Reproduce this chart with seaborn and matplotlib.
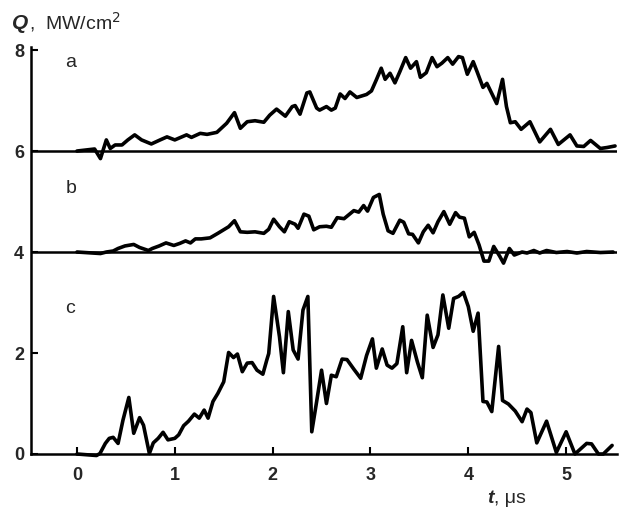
import matplotlib
matplotlib.use("Agg")
import matplotlib.pyplot as plt
import seaborn as sns
import pandas as pd

# time axis, microseconds, and heat flux traces, MW/cm^2
t_a = [0.00, 0.18, 0.24, 0.30, 0.34, 0.39, 0.46, 0.52, 0.59, 0.66, 0.76, 0.85, 0.92, 1.00, 1.12, 1.17,
       1.26, 1.33, 1.43, 1.53, 1.61, 1.67, 1.74, 1.82, 1.91, 1.97, 2.04, 2.13, 2.20, 2.23, 2.28, 2.35,
       2.38, 2.45, 2.48, 2.55, 2.60, 2.64, 2.69, 2.74, 2.79, 2.86, 2.96, 3.01, 3.06, 3.11, 3.15, 3.20,
       3.25, 3.30, 3.36, 3.41, 3.47, 3.51, 3.57, 3.63, 3.68, 3.73, 3.79, 3.84, 3.90, 3.94, 3.99, 4.05,
       4.09, 4.15, 4.19, 4.24, 4.29, 4.35, 4.39, 4.43, 4.48, 4.54, 4.63, 4.73, 4.84, 4.92, 5.04, 5.11,
       5.18, 5.25, 5.35, 5.42, 5.50]
q_a = [6.00, 6.04, 5.85, 6.22, 6.05, 6.12, 6.12, 6.22, 6.32, 6.22, 6.14, 6.22, 6.28, 6.22, 6.32, 6.27,
       6.35, 6.33, 6.37, 6.55, 6.76, 6.45, 6.58, 6.60, 6.57, 6.71, 6.83, 6.69, 6.88, 6.90, 6.73, 7.15,
       7.17, 6.85, 6.81, 6.88, 6.81, 6.85, 7.13, 7.04, 7.17, 7.06, 7.12, 7.19, 7.41, 7.64, 7.42, 7.54,
       7.35, 7.57, 7.85, 7.64, 7.77, 7.46, 7.55, 7.85, 7.67, 7.74, 7.85, 7.72, 7.87, 7.85, 7.52, 7.77,
       7.57, 7.26, 7.34, 7.14, 6.94, 7.42, 6.88, 6.56, 6.58, 6.43, 6.58, 6.18, 6.43, 6.13, 6.32, 6.10,
       6.09, 6.21, 6.05, 6.07, 6.10]

t_b = [0.00, 0.24, 0.30, 0.37, 0.42, 0.49, 0.58, 0.64, 0.73, 0.77, 0.84, 0.91, 0.99, 1.05, 1.11, 1.16,
       1.21, 1.27, 1.36, 1.44, 1.55, 1.61, 1.67, 1.74, 1.82, 1.91, 1.96, 2.01, 2.07, 2.12, 2.17, 2.23,
       2.26, 2.32, 2.37, 2.42, 2.48, 2.55, 2.60, 2.66, 2.73, 2.83, 2.88, 2.93, 2.97, 3.03, 3.09, 3.13,
       3.18, 3.23, 3.30, 3.34, 3.39, 3.43, 3.49, 3.54, 3.59, 3.64, 3.69, 3.75, 3.81, 3.87, 3.91, 3.96,
       4.01, 4.06, 4.11, 4.16, 4.21, 4.26, 4.32, 4.36, 4.42, 4.47, 4.55, 4.60, 4.67, 4.73, 4.80, 4.90,
       5.01, 5.11, 5.21, 5.35, 5.48]
q_b = [4.00, 3.97, 4.00, 4.02, 4.07, 4.12, 4.15, 4.09, 4.03, 4.07, 4.12, 4.18, 4.13, 4.17, 4.22, 4.18,
       4.26, 4.26, 4.28, 4.37, 4.50, 4.62, 4.40, 4.39, 4.40, 4.37, 4.45, 4.65, 4.50, 4.40, 4.60, 4.55,
       4.47, 4.75, 4.71, 4.44, 4.50, 4.51, 4.49, 4.68, 4.66, 4.82, 4.79, 4.92, 4.81, 5.08, 5.14, 4.75,
       4.42, 4.37, 4.63, 4.59, 4.36, 4.35, 4.18, 4.40, 4.53, 4.38, 4.60, 4.80, 4.55, 4.78, 4.69, 4.67,
       4.30, 4.39, 4.14, 3.82, 3.82, 4.11, 3.92, 3.78, 4.07, 3.94, 4.00, 3.98, 4.03, 3.98, 4.03, 3.99,
       4.01, 3.98, 4.01, 3.99, 4.00]

t_c = [0.00, 0.20, 0.235, 0.29, 0.33, 0.37, 0.42, 0.47, 0.53, 0.58, 0.64, 0.68, 0.74, 0.78, 0.83, 0.88,
       0.93, 1.00, 1.04, 1.09, 1.14, 1.20, 1.25, 1.30, 1.34, 1.39, 1.44, 1.50, 1.55, 1.60, 1.64, 1.69,
       1.74, 1.79, 1.84, 1.90, 1.94, 1.96, 2.01, 2.07, 2.11, 2.16, 2.21, 2.26, 2.31, 2.36, 2.40, 2.45,
       2.50, 2.55, 2.60, 2.65, 2.71, 2.76, 2.83, 2.90, 2.96, 3.02, 3.06, 3.12, 3.17, 3.22, 3.27, 3.33,
       3.37, 3.42, 3.48, 3.53, 3.58, 3.64, 3.69, 3.74, 3.80, 3.85, 3.90, 3.95, 4.00, 4.05, 4.10, 4.15,
       4.19, 4.24, 4.31, 4.35, 4.41, 4.48, 4.55, 4.60, 4.64, 4.70, 4.80, 4.90, 5.00, 5.09, 5.21, 5.26,
       5.33, 5.38, 5.47]
q_c = [0.00, -0.03, 0.01, 0.21, 0.31, 0.33, 0.21, 0.67, 1.12, 0.41, 0.72, 0.57, 0.01, 0.22, 0.31, 0.43,
       0.28, 0.31, 0.38, 0.56, 0.65, 0.79, 0.71, 0.87, 0.71, 1.04, 1.20, 1.43, 2.01, 1.91, 1.98, 1.63,
       1.80, 1.81, 1.66, 1.58, 1.86, 1.99, 3.12, 2.32, 1.61, 2.82, 2.06, 1.88, 2.85, 3.12, 0.44, 1.04,
       1.66, 1.00, 1.56, 1.53, 1.88, 1.87, 1.68, 1.50, 1.95, 2.28, 1.70, 2.08, 1.76, 1.70, 1.79, 2.52,
       1.61, 2.25, 1.82, 1.51, 2.75, 2.11, 2.36, 3.15, 2.49, 3.08, 3.12, 3.20, 2.92, 2.43, 2.79, 1.04,
       1.03, 0.84, 2.13, 1.06, 0.99, 0.85, 0.64, 0.89, 0.82, 0.22, 0.65, 0.03, 0.44, 0.00, 0.21, 0.20,
       0.00, 0.00, 0.17]

# zero levels of the shifted traces a and b
offsets = [6.0, 4.0]
panel_names = ["a", "b", "c"]
panel_label_t = [-0.12, -0.12, -0.12]
panel_label_q = [7.66, 5.17, 2.79]
x_ticks = [0, 1, 2, 3, 4, 5]
y_ticks = [0, 2, 4, 6, 8]

sns.set_style("ticks")
plt.rcParams["font.family"] = ["Liberation Sans", "DejaVu Sans"]

fig = plt.figure(figsize=(6.23, 5.14), dpi=100)
ax = fig.add_axes([31 / 623, 60 / 514, 586 / 623, 407 / 514])

frames = [
    pd.DataFrame({"t": t_a, "q": q_a, "trace": "a"}),
    pd.DataFrame({"t": t_b, "q": q_b, "trace": "b"}),
    pd.DataFrame({"t": t_c, "q": q_c, "trace": "c"}),
]
for df in frames:
    sns.lineplot(data=df, x="t", y="q", ax=ax, color="black", linewidth=2.6,
                 estimator=None, sort=False, clip_on=False, legend=False,
                 solid_joinstyle="round", solid_capstyle="round")

for level in offsets:
    ax.axhline(level, color="black", linewidth=1.8, zorder=1)

for name, tx, qy in zip(panel_names, panel_label_t, panel_label_q):
    ax.text(tx, qy, name, fontsize=14, ha="left", va="baseline")

ax.set_xlim(-0.47, 5.52)
ax.set_ylim(0, 8.06)
ax.set_xticks(x_ticks)
ax.set_yticks(y_ticks)
ax.set_xticklabels([str(v) for v in x_ticks], fontsize=13, fontweight="bold")
ax.set_yticklabels([str(v) for v in y_ticks], fontsize=13, fontweight="bold")
ax.tick_params(axis="both", direction="in", length=5, width=1.5, color="black")
ax.tick_params(axis="x", pad=9)
ax.tick_params(axis="y", pad=5)
ax.set_xlabel("")
ax.set_ylabel("")
sns.despine(ax=ax)
for side in ["left", "bottom"]:
    ax.spines[side].set_linewidth(1.8)
    ax.spines[side].set_color("black")

# axis titles
fig.text(12 / 623, 1 - 29 / 514, "Q", fontsize=15, fontweight="bold", fontstyle="italic",
         ha="left", va="baseline")
fig.text(29 / 623, 1 - 29 / 514, ",  MW/cm$^2$", fontsize=14, ha="left", va="baseline")
fig.text(487 / 623, 1 - 503 / 514, "t", fontsize=14, fontweight="bold", fontstyle="italic",
         ha="left", va="baseline")
fig.text(494 / 623, 1 - 503 / 514, ", μs", fontsize=14, ha="left", va="baseline")

fig.savefig("out.png", dpi=100)
